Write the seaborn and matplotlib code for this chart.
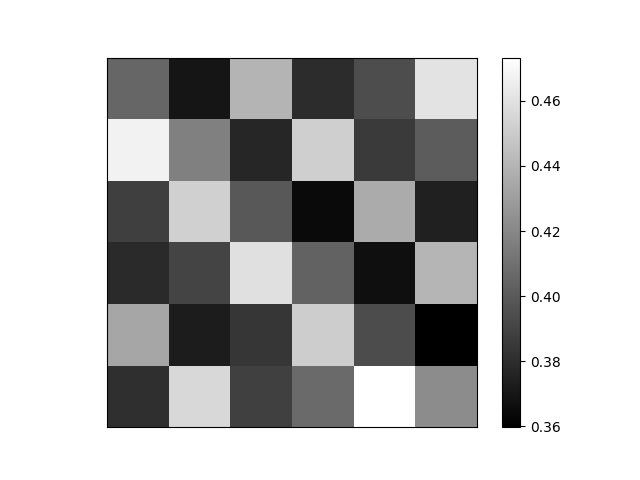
import matplotlib
matplotlib.use("Agg")
import matplotlib.pyplot as plt
import seaborn as sns
import numpy as np

row0 = [0.4051, 0.3691, 0.4399, 0.3793, 0.3940, 0.4608]
row1 = [0.4675, 0.4167, 0.3766, 0.4519, 0.3855, 0.4007]
row2 = [0.3878, 0.4524, 0.3989, 0.3642, 0.4359, 0.3740]
row3 = [0.3784, 0.3900, 0.4595, 0.4034, 0.3668, 0.4403]
row4 = [0.4337, 0.3722, 0.3838, 0.4510, 0.3936, 0.3597]
row5 = [0.3806, 0.4559, 0.3882, 0.4069, 0.4733, 0.4221]
data = np.array([row0, row1, row2, row3, row4, row5])

fig, ax = plt.subplots(figsize=(6.4, 4.8), dpi=100)
sns.heatmap(data, cmap="gray", ax=ax, square=True,
            xticklabels=False, yticklabels=False,
            cbar_kws={"ticks": [0.36, 0.38, 0.40, 0.42, 0.44, 0.46]})
for s in ax.spines.values():
    s.set_visible(True)
    s.set_linewidth(0.8)
    s.set_color("black")
cb = ax.collections[0].colorbar
cb.outline.set_visible(True)
cb.outline.set_linewidth(0.8)
cb.ax.tick_params(labelsize=10)
cb.ax.yaxis.set_major_formatter(matplotlib.ticker.FormatStrFormatter("%.2f"))
fig.savefig("out.png", dpi=100)
